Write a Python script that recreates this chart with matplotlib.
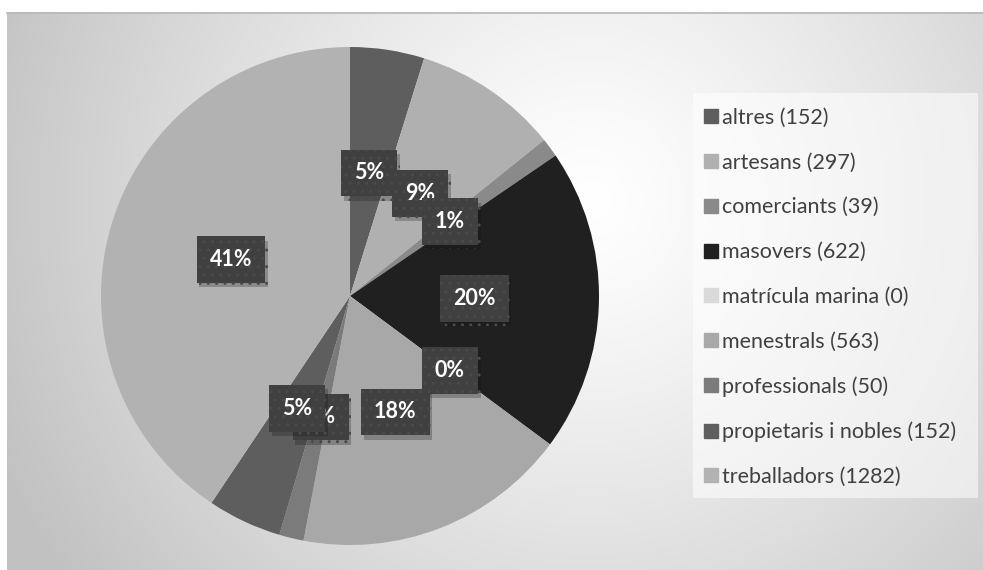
import matplotlib
matplotlib.use('Agg')
import matplotlib.pyplot as plt
import matplotlib.patheffects as pe
from matplotlib.patches import Rectangle
from matplotlib.lines import Line2D
import numpy as np

categories = ['altres', 'artesans', 'comerciants', 'masovers', 'matrícula marina',
              'menestrals', 'professionals', 'propietaris i nobles', 'treballadors']
counts = [152, 297, 39, 622, 0, 563, 50, 152, 1282]
colors = ['#5e5e5e', '#b0b0b0', '#8a8a8a', '#202020', '#dadada',
          '#a8a8a8', '#7b7b7b', '#5e5e5e', '#b2b2b2']

W, H = 983, 570
fig = plt.figure(figsize=(W / 100, H / 100), dpi=100)

# background: radial grey gradient inside the chart area
bg = fig.add_axes([0, 0, 1, 1])
bg.set_xlim(0, W)
bg.set_ylim(H, 0)
bg.axis('off')
xx, yy = np.meshgrid(np.arange(W), np.arange(H))
d = np.hypot(xx - 590, yy - 200) / 620
g = np.clip(1 - 0.23 * d ** 1.2, 0.76, 1)
img = np.dstack([g, g, g])
img[:12, :, :] = 1
img[:, :7, :] = 1
bg.imshow(img, extent=(0, W, H, 0), aspect='auto', interpolation='bilinear')
bg.plot([7, W], [12.5, 12.5], color='#b8b8b8', lw=1.2)

# legend panel
bg.add_patch(Rectangle((693, 93), 285, 405, fc='white', ec='none', alpha=0.55))

# pie
cx, cy, r = 350, 296, 249
ax = fig.add_axes([(cx - r) / W, (H - cy - r) / H, 2 * r / W, 2 * r / H])
ax.axis('off')

wedges, texts, autotexts = ax.pie(
    counts, colors=colors, startangle=90, counterclock=False, radius=1,
    autopct=lambda p: '{:.0f}%'.format(p), pctdistance=0.5,
    wedgeprops=dict(linewidth=0),
    textprops=dict(color='white', fontsize=15.5, fontweight='bold', family='Lato'))
ax.set_xlim(-1, 1)
ax.set_ylim(-1, 1)
ax.set_aspect('equal')

for t in autotexts:
    t.set_bbox(dict(boxstyle='square,pad=0.6', fc='#404040', ec='#4a4a4a',
                    hatch='..', lw=0))
    t.get_bbox_patch().set_path_effects(
        [pe.SimplePatchShadow(offset=(2, -3), alpha=0.25), pe.Normal()])

handles = [Line2D([], [], marker='s', linestyle='none', markersize=10,
                  markerfacecolor=c, markeredgecolor=c) for c in colors]
labels = ['{} ({})'.format(c, v) for c, v in zip(categories, counts)]
fig.legend(handles, labels, loc='upper left', bbox_to_anchor=(695 / W, 1 - 97 / H),
           frameon=False, prop=dict(family='Lato', size=15.5), labelcolor='#404040',
           handlelength=0.5, handletextpad=0.25, labelspacing=1.15, borderpad=0)

fig.savefig('out.png', dpi=100)
